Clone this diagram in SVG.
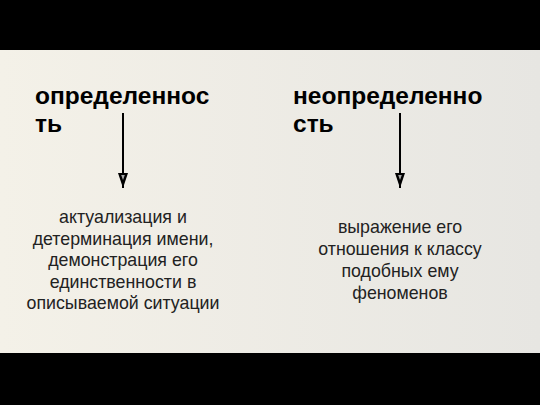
<svg xmlns="http://www.w3.org/2000/svg" width="540" height="405" viewBox="0 0 540 405">
<defs>
<linearGradient id="bg" x1="0" y1="0" x2="1" y2="0">
<stop offset="0" stop-color="#F4F1E8"/>
<stop offset="1" stop-color="#E7E6E2"/>
</linearGradient>
<marker id="ah" viewBox="0 0 15 10" refX="15" refY="5" markerWidth="15" markerHeight="10" markerUnits="userSpaceOnUse" orient="auto">
<path d="M0,0 L15,5 L0,10 Z" fill="#000"/>
<path d="M2,3.2 L7,5 L2,6.8 Z" fill="#aaa"/>
</marker>
<style>
.title{font-family:"Liberation Sans",Arial,sans-serif;font-weight:bold;font-size:24.5px;fill:#000}
.body{font-family:"Liberation Sans",Arial,sans-serif;font-size:17.8px;fill:#222;text-anchor:middle}
.conn{stroke:#000;stroke-width:2;fill:none}
</style>
</defs>
<rect width="540" height="405" fill="url(#bg)"/>
<rect x="0" y="0" width="540" height="50" fill="#000"/>
<rect x="0" y="353" width="540" height="52" fill="#000"/>
<g id="n-left-title">
<text class="title" x="35" y="104">определеннос</text>
<text class="title" x="35" y="132">ть</text>
</g>
<g id="n-right-title">
<text class="title" x="293" y="104">неопределенно</text>
<text class="title" x="293" y="132">сть</text>
</g>
<g id="n-left-body">
<text class="body" x="123" y="223">актуализация и</text>
<text class="body" x="123" y="244.5">детерминация имени,</text>
<text class="body" x="123" y="266">демонстрация его</text>
<text class="body" x="123" y="287.5">единственности в</text>
<text class="body" x="123" y="309">описываемой ситуации</text>
</g>
<g id="n-right-body">
<text class="body" x="400" y="233">выражение его</text>
<text class="body" x="400" y="255">отношения к классу</text>
<text class="body" x="400" y="277">подобных ему</text>
<text class="body" x="400" y="299">феноменов</text>
</g>
<g id="connectors">
<line class="conn" x1="123" y1="113" x2="123" y2="188" marker-end="url(#ah)"/>
<line class="conn" x1="400" y1="113" x2="400" y2="188" marker-end="url(#ah)"/>
</g>
</svg>
